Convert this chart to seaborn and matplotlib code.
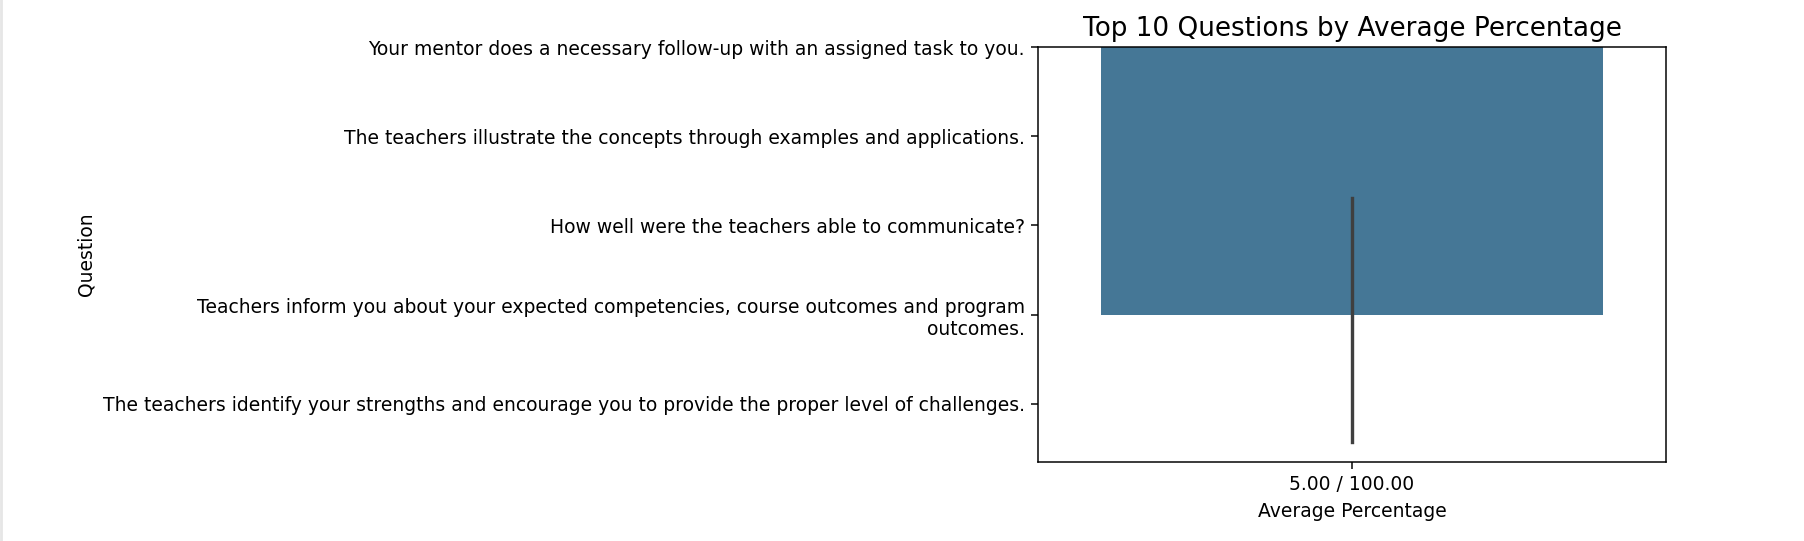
import matplotlib
matplotlib.use("Agg")
import matplotlib.pyplot as plt
import seaborn as sns
import pandas as pd

# question labels shown on the y axis (top to bottom)
questions = [
    "Your mentor does a necessary follow-up with an assigned task to you.",
    "The teachers illustrate the concepts through examples and applications.",
    "How well were the teachers able to communicate?",
    "Teachers inform you about your expected competencies, course outcomes and program\noutcomes.",
    "The teachers identify your strengths and encourage you to provide the proper level of challenges.",
]
# x category and the y positions averaged by the bar
score_label = "5.00 / 100.00"
positions = [1.69, 2.88, 4.43]

df = pd.DataFrame({"Average Percentage": [score_label] * len(positions),
                   "Question": positions})

DPI = 135
fig = plt.figure(figsize=(1804 / DPI, 541 / DPI), dpi=DPI)
ax = fig.add_axes([1038 / 1804, 1 - 462 / 541, 628 / 1804, 415 / 541])

sns.barplot(data=df, x="Average Percentage", y="Question", color="#457796",
            saturation=1, errorbar=("pi", 100),
            err_kws={"color": "#3f3f3f", "linewidth": 1.8}, ax=ax)

ax.set_yticks(range(len(questions)), labels=questions)
ax.invert_yaxis()
ax.set_xlabel("Average Percentage")
ax.set_ylabel("Question")
ax.set_title("Top 10 Questions by Average Percentage", fontsize=14)

# thin grey edge on the far left
fig.add_artist(plt.Line2D([0.0008, 0.0008], [0, 1], color="#e6e6e6", lw=1.5))

fig.savefig("out.png", dpi=DPI)
